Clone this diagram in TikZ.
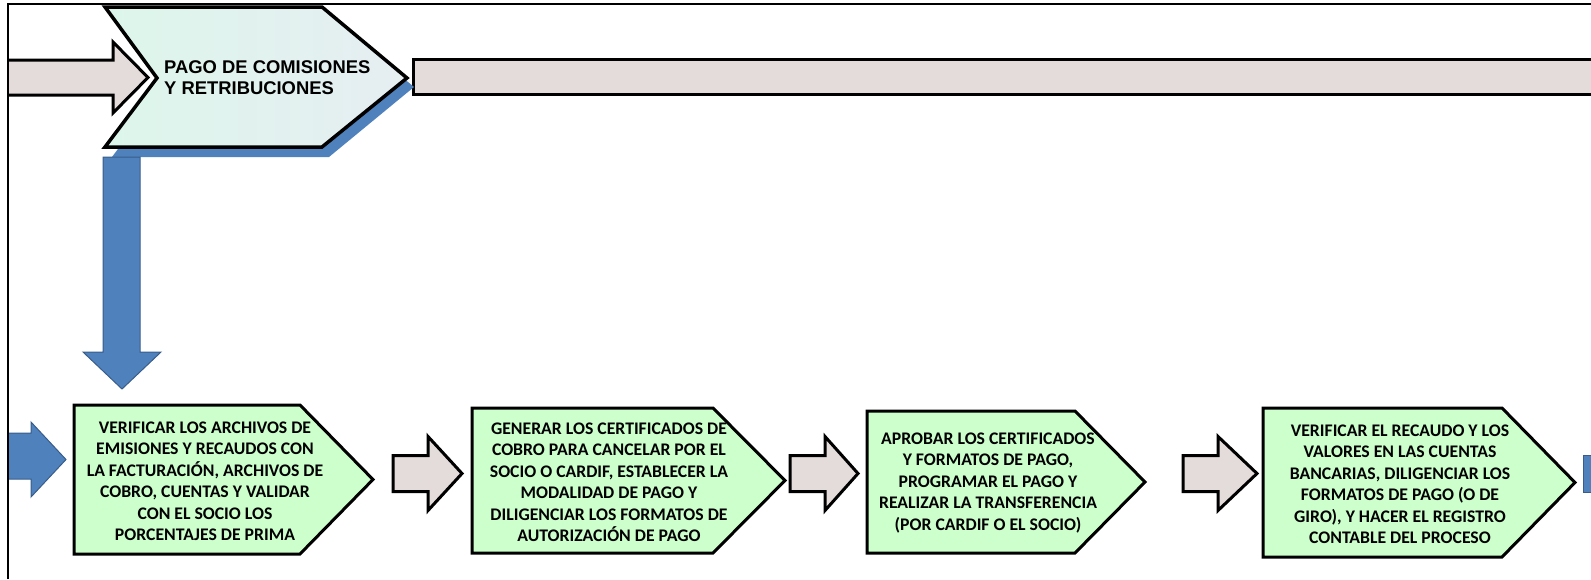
\documentclass[tikz,border=0pt]{standalone}
\usepackage{fontspec}
\setmainfont{Carlito}
\newfontfamily\arialfont{Liberation Sans}
\definecolor{azul}{HTML}{4F81BD}
\definecolor{azulborde}{HTML}{385D8A}
\definecolor{verde}{HTML}{CCFFCC}
\definecolor{gris}{HTML}{E3DCDB}
\definecolor{celeste}{HTML}{DDF6EB}
\definecolor{celeste2}{HTML}{E6EEF2}
\begin{document}
\begin{tikzpicture}[x=1pt, y=-1pt,
    flechagris/.style={draw=black, line width=3pt, fill=gris},
    flechaazul/.style={draw=azulborde, line width=1pt, fill=azul},
    paso/.style={draw=black, line width=3pt, fill=verde},
    texto/.style={align=center, inner sep=0pt, font=\fontsize{17.7}{21.5}\selectfont\bfseries}]
    \useasboundingbox (0,0) rectangle (1591,579);

    % Fila superior
    \draw[flechagris] (8,60) -- (113,60) -- (113,42) -- (148,77.5) -- (113,113) -- (113,95) -- (8,95); % entrada
    \draw[flechagris] (1600,59) -- (413,59) -- (413,94) -- (1600,94); % barra derecha
    \fill[azul] (112,16) -- (329,16) -- (414,87) -- (329,157) -- (112,157) -- (164,87) -- cycle; % sombra
    \draw[line width=3.5pt, left color=celeste, right color=celeste2] (105,7) -- (322,7) -- (407,78) -- (322,147) -- (105,147) -- (157,78) -- cycle; % chevron
    \node[anchor=west, align=left, inner sep=0pt, font=\arialfont\fontsize{18.4}{21}\selectfont\bfseries] (titulo) at (164,77.5) {PAGO DE COMISIONES\\Y RETRIBUCIONES};

    % Flecha hacia abajo
    \draw[flechaazul] (103,157) -- (140,157) -- (140,352) -- (161,352) -- (122,389) -- (83,352) -- (103,352) -- cycle;

    % Fila inferior
    \draw[flechaazul] (8,433) -- (31,433) -- (31,422) -- (66,459.5) -- (31,497) -- (31,479) -- (8,479); % entrada
    \draw[flechaazul] (1600,455) -- (1583,455) -- (1583,492) -- (1600,492); % salida
    \foreach \x/\w in {393/69, 790/68, 1183/74} {
        \draw[flechagris] (\x,455.5) -- ({\x+35},455.5) -- ({\x+35},436.5) -- ({\x+\w},473.5) -- ({\x+35},510.5) -- ({\x+35},491.5) -- (\x,491.5) -- cycle;
    }
    \foreach \l/\t/\r/\p/\b in {74/405/300/373/554, 472/408/713/785/553, 867/411/1075/1145/553, 1263/408/1502/1575/557} {
        \draw[paso] (\l,\t) -- (\r,\t) -- (\p,{(\t+\b)/2}) -- (\r,\b) -- (\l,\b) -- cycle;
    }

    \node[texto] (paso1) at (205,481) {VERIFICAR LOS ARCHIVOS DE\\EMISIONES Y RECAUDOS CON\\LA FACTURACIÓN, ARCHIVOS DE\\COBRO, CUENTAS Y VALIDAR\\CON EL SOCIO LOS\\PORCENTAJES DE PRIMA};
    \node[texto] (paso2) at (609,482.5) {GENERAR LOS CERTIFICADOS DE\\COBRO PARA CANCELAR POR EL\\SOCIO O CARDIF, ESTABLECER LA\\MODALIDAD DE PAGO Y\\DILIGENCIAR LOS FORMATOS DE\\AUTORIZACIÓN DE PAGO};
    \node[texto] (paso3) at (988,483) {APROBAR LOS CERTIFICADOS\\Y FORMATOS DE PAGO,\\PROGRAMAR EL PAGO Y\\REALIZAR LA TRANSFERENCIA\\(POR CARDIF O EL SOCIO)};
    \node[texto] (paso4) at (1400,484) {VERIFICAR EL RECAUDO Y LOS\\VALORES EN LAS CUENTAS\\BANCARIAS, DILIGENCIAR LOS\\FORMATOS DE PAGO (O DE\\GIRO), Y HACER EL REGISTRO\\CONTABLE DEL PROCESO};

    % Marco
    \draw[line width=1.5pt] (8,579) -- (8,4) -- (1591,4);
\end{tikzpicture}
\end{document}
